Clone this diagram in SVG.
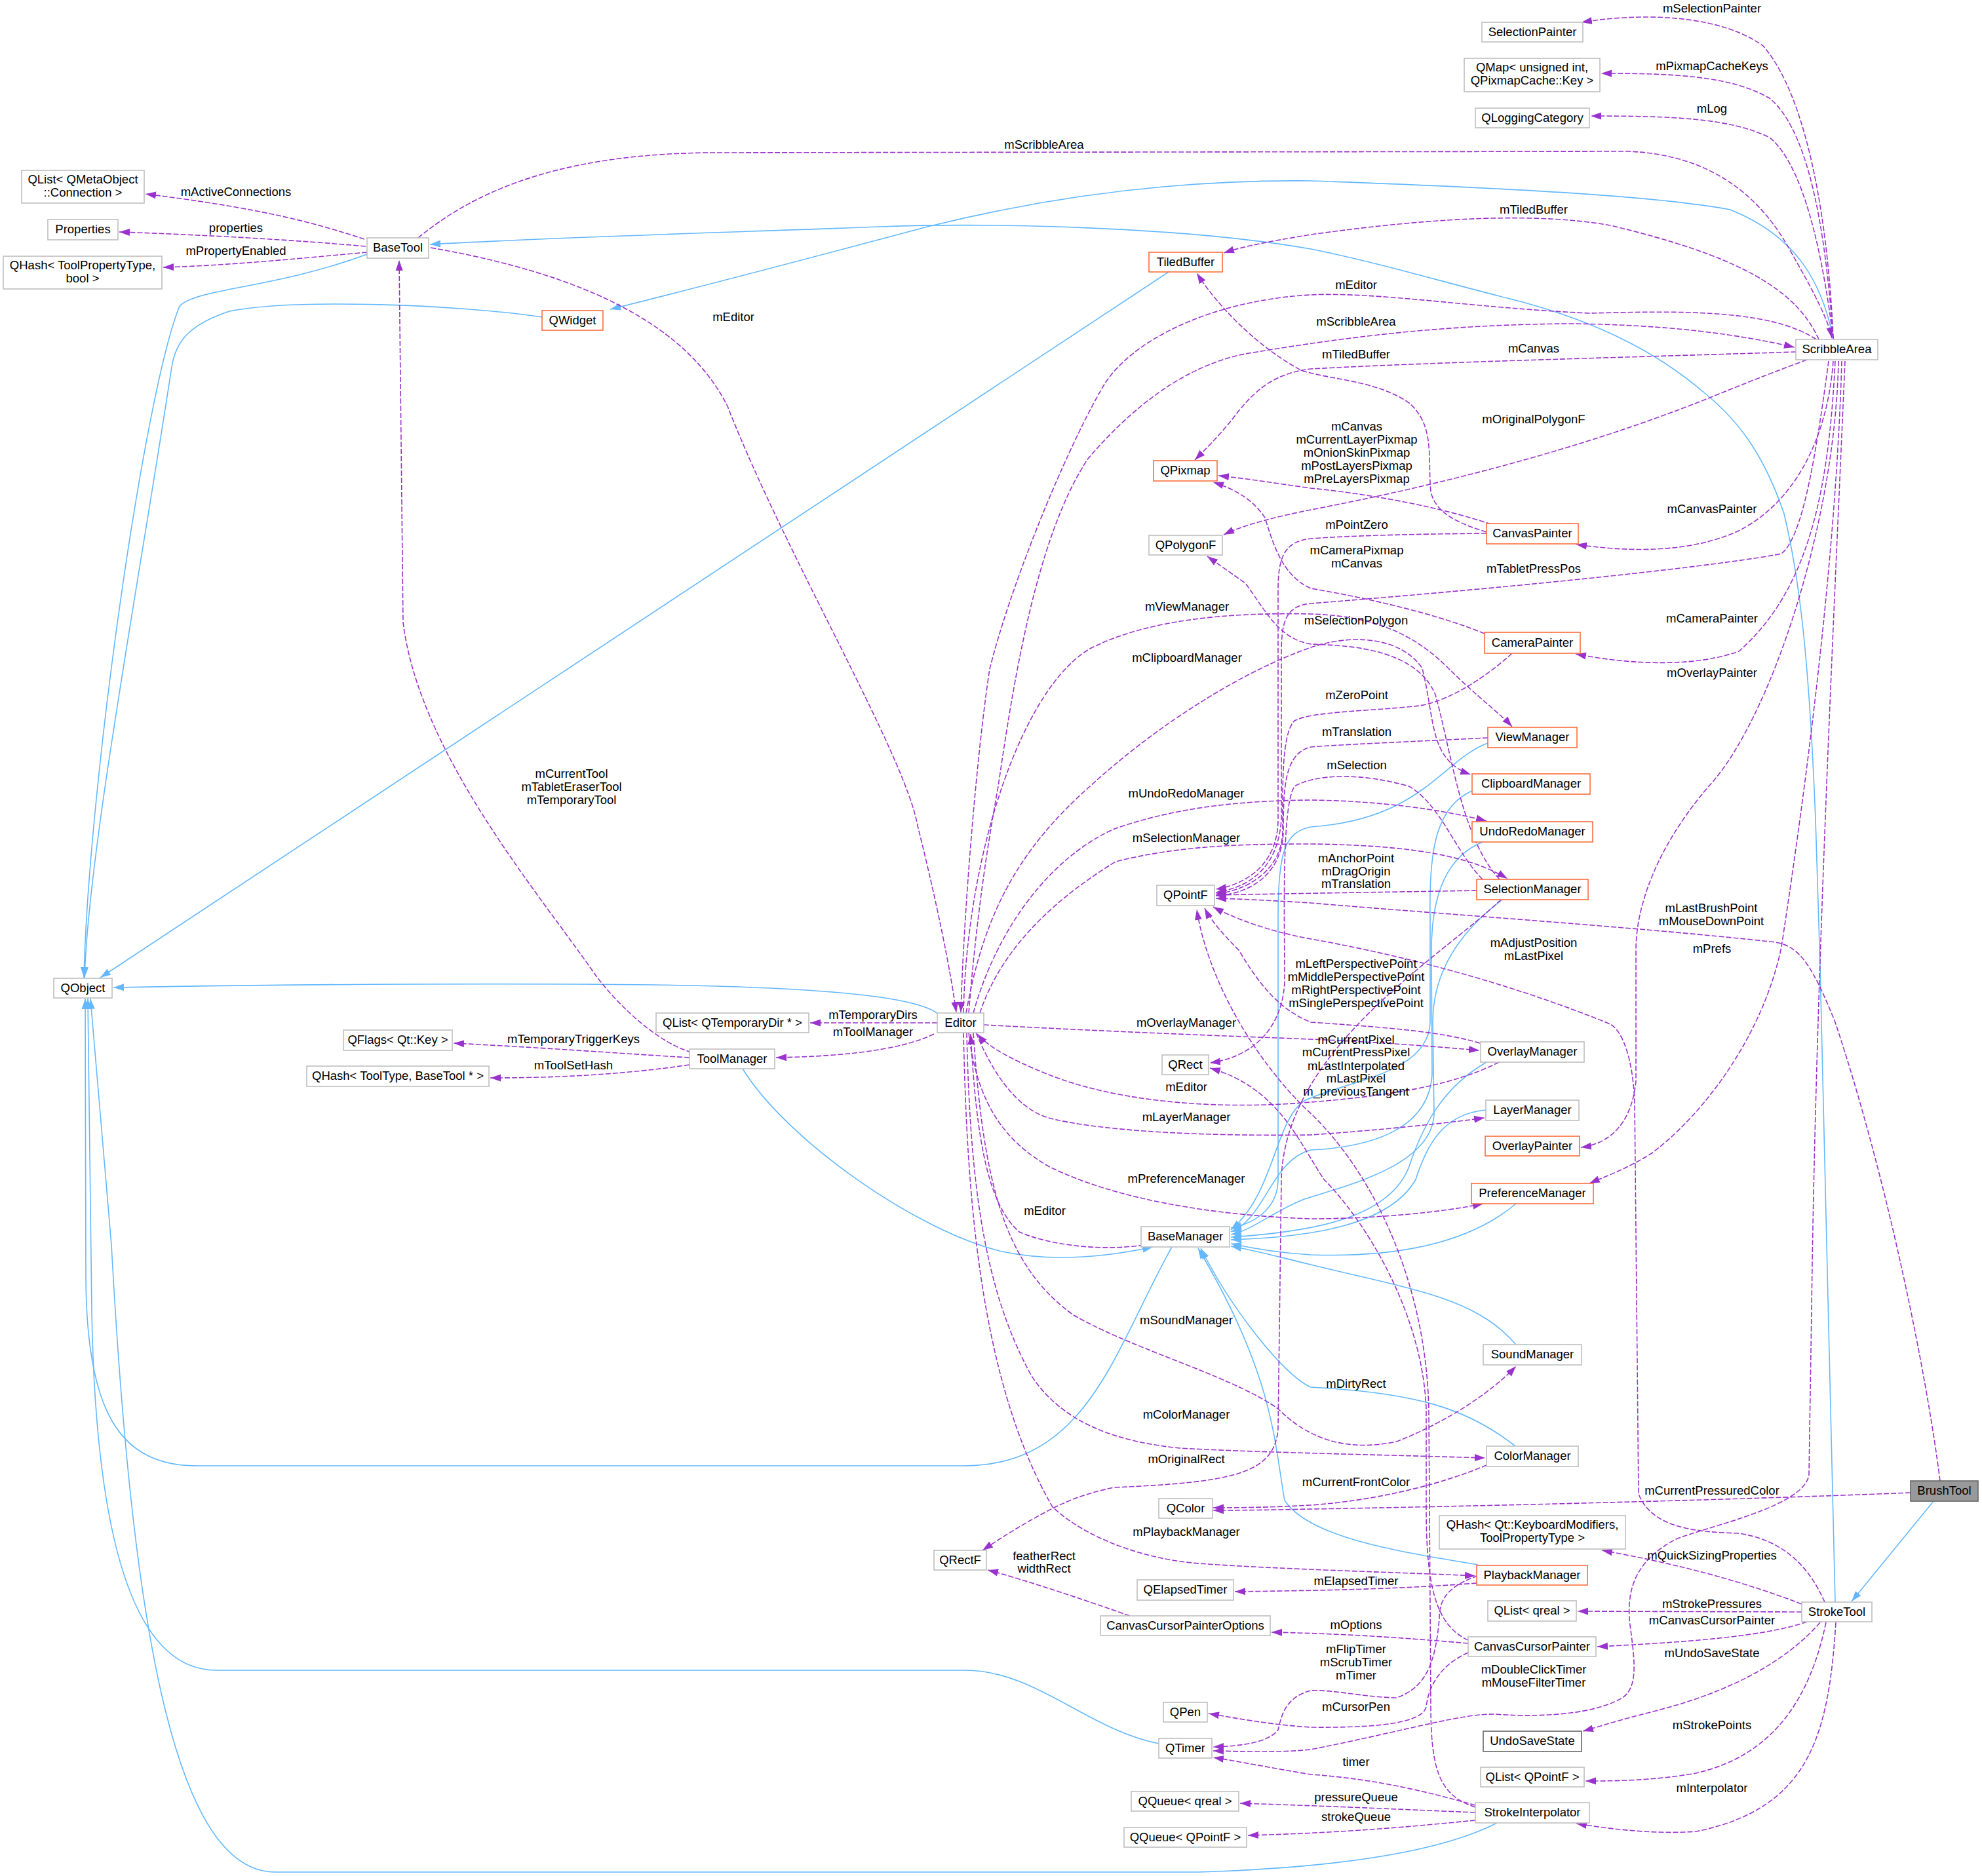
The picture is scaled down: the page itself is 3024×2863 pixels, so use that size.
<svg xmlns="http://www.w3.org/2000/svg" width="3024" height="2863" viewBox="0 0 3024 2863">
<style>
.bg{fill:#ffffff}
.u{fill:none;stroke:#9a32cd;stroke-width:1.6;stroke-dasharray:8,3;marker-end:url(#ap)}
.i{fill:none;stroke:#63b8ff;stroke-width:1.6;marker-end:url(#ab)}
.nb{fill:#ffffff;stroke:#bfbfbf;stroke-width:1.6}
.no{fill:#ffffff;stroke:#fb6d3d;stroke-width:1.6}
.nd{fill:#ffffff;stroke:#666666;stroke-width:1.6}
.nr{fill:#999999;stroke:#666666;stroke-width:1.6}
text{font-family:"Liberation Sans",Arial,sans-serif;font-size:18.5px;fill:#000000;text-anchor:middle}
</style>
<defs>
<marker id="ap" markerUnits="userSpaceOnUse" markerWidth="16" markerHeight="12" refX="16" refY="6" orient="auto" viewBox="0 0 16 12"><path d="M0,0.5 L16,6 L0,11.5 z" fill="#9a32cd"/></marker>
<marker id="ab" markerUnits="userSpaceOnUse" markerWidth="16" markerHeight="12" refX="16" refY="6" orient="auto" viewBox="0 0 16 12"><path d="M0,0.5 L16,6 L0,11.5 z" fill="#63b8ff"/></marker>
</defs>
<rect class="bg" x="0" y="0" width="3024" height="2863"/>
<g id="edges">
<path class="i" d="M560,388 C420,440 300,440 274,467 C220,600 135,1200 128,1492"/>
<path class="i" d="M827,484 C700,465 450,455 350,475 C290,495 268,520 262,560 C210,900 135,1300 129,1492"/>
<path class="i" d="M1783,415 L153,1492"/>
<path class="i" d="M2797,517 C2780,430 2740,360 2640,320 C2560,305 2400,290 2000,276 C1800,274 1600,300 1415,346 C1250,390 1100,430 931,472"/>
<path class="i" d="M2800,2445 C2795,2200 2785,1700 2770,1250 C2760,1000 2745,880 2722,784 C2690,690 2650,640 2601,600 C2520,530 2420,485 2300,455 C2200,430 2100,400 2000,380 C1800,345 1500,340 1344,346 C1100,355 850,362 656,373"/>
<path class="i" d="M2950,2291 L2825,2444"/>
<path class="i" d="M1432,1548 C1400,1520 1250,1507 1000,1503 C700,1500 400,1503 173,1507"/>
<path class="i" d="M1133,1631 C1200,1740 1400,1880 1529,1910 C1600,1925 1680,1920 1759,1903"/>
<path class="i" d="M1788,1903 C1700,2060 1660,2237 1470,2237 L300,2237 C180,2237 132,2150 131,1950 L130,1524"/>
<path class="i" d="M1768,2661 C1660,2640 1580,2549 1472,2549 L330,2549 C190,2549 145,2300 140,2000 L134,1524"/>
<path class="i" d="M2284,2782 C2200,2825 2050,2850 1829,2857 L420,2857 C260,2857 200,2450 170,1900 L138,1524"/>
<path class="i" d="M2270,1134 C2200,1160 2170,1250 2000,1262 C1960,1270 1950,1300 1950,1400 L1950,1800 C1950,1840 1920,1866 1878,1874"/>
<path class="i" d="M2248,1206 C2190,1230 2180,1300 2182,1400 L2182,1560 C2180,1640 2050,1650 1990,1680 C1945,1710 1945,1820 1878,1877"/>
<path class="i" d="M2262,1285 C2200,1310 2184,1380 2184,1450 L2185,1640 C2180,1720 2100,1750 2000,1755 C1940,1770 1930,1860 1878,1880"/>
<path class="i" d="M2292,1373 C2230,1420 2186,1480 2186,1560 L2188,1700 C2185,1780 2050,1810 1990,1830 C1940,1850 1910,1878 1878,1884"/>
<path class="i" d="M2268,1621 C2200,1660 2170,1720 2150,1780 C2120,1860 2000,1880 1878,1888"/>
<path class="i" d="M2267,1694 C2200,1700 2176,1750 2160,1800 C2120,1870 2000,1888 1878,1892"/>
<path class="i" d="M2313,1837 C2250,1890 2150,1920 2000,1915 C1950,1912 1910,1905 1878,1898"/>
<path class="i" d="M2313,2052 C2250,1980 2163,1970 2000,1930 C1950,1918 1910,1907 1878,1902"/>
<path class="i" d="M2312,2207 C2240,2150 2160,2125 2000,2117 C1960,2100 1880,2000 1832,1905"/>
<path class="i" d="M2255,2388 C2150,2370 2000,2350 1960,2290 C1944,2200 1944,2100 1828,1905"/>
<path class="u" d="M556,365 C480,340 400,318 222,296"/>
<path class="u" d="M558,376 C450,366 300,358 182,354"/>
<path class="u" d="M560,385 C450,395 350,405 249,408"/>
<path class="u" d="M638,363 C750,270 900,235 1083,233 L2483,231 C2600,235 2680,290 2730,380 C2770,450 2790,490 2795,516"/>
<path class="u" d="M657,378 C900,420 1050,500 1110,620 C1200,850 1380,1150 1400,1260 C1430,1380 1450,1480 1459,1545"/>
<path class="u" d="M1055,1606 C1000,1590 940,1530 910,1490 C820,1360 640,1150 615,950 L609,397"/>
<path class="u" d="M1052,1614 C950,1608 850,1600 692,1592"/>
<path class="u" d="M1052,1625 C950,1640 850,1645 748,1645"/>
<path class="u" d="M1425,1578 C1380,1600 1300,1612 1184,1614"/>
<path class="u" d="M1430,1561 L1236,1561"/>
<path class="u" d="M2797,517 C2790,350 2760,150 2690,70 C2620,20 2500,20 2413,34"/>
<path class="u" d="M2797,517 C2785,350 2760,200 2700,150 C2640,115 2550,112 2443,112"/>
<path class="u" d="M2797,517 C2780,380 2750,250 2700,210 C2640,180 2550,177 2427,177"/>
<path class="u" d="M2775,518 C2740,440 2650,390 2457,344 C2350,325 2200,330 2000,358 C1940,368 1900,375 1867,386"/>
<path class="u" d="M2771,518 C2700,470 2550,475 2425,478 C2250,470 2100,445 2000,450 C1850,458 1720,520 1680,595 C1620,700 1540,900 1510,1021 C1490,1150 1470,1400 1466,1545"/>
<path class="u" d="M1478,1546 C1490,1400 1505,1300 1523,1200 C1545,1050 1580,820 1660,700 C1720,630 1800,560 1900,540 C2050,515 2200,495 2400,494 C2550,496 2650,510 2738,530"/>
<path class="u" d="M2740,537 C2500,545 2200,552 2000,563 C1940,570 1910,600 1880,640 C1860,665 1840,685 1823,702"/>
<path class="u" d="M2268,812 C2230,800 2190,785 2183,750 C2178,700 2190,650 2150,615 C2100,580 2030,580 1985,565 C1920,530 1860,470 1826,417"/>
<path class="u" d="M2757,549 C2700,570 2650,590 2601,610 C2450,670 2250,730 2000,778 C1950,788 1900,800 1867,816"/>
<path class="u" d="M2275,800 C2200,775 2100,755 2000,745 C1950,738 1900,730 1859,726"/>
<path class="u" d="M2268,814 C2150,815 2050,818 2000,822 C1960,826 1950,850 1950,900 L1950,1250 C1950,1320 1900,1350 1855,1357"/>
<path class="u" d="M2797,551 C2790,650 2750,760 2653,810 C2570,848 2470,840 2405,831"/>
<path class="u" d="M2265,967 C2200,940 2100,915 2000,898 C1960,880 1945,840 1930,790 C1910,760 1880,745 1851,736"/>
<path class="u" d="M2790,551 C2770,700 2750,820 2718,845 C2620,864 2327,895 2000,921 C1960,925 1955,950 1955,1000 L1955,1250 C1950,1330 1900,1355 1855,1362"/>
<path class="u" d="M1470,1546 C1475,1300 1560,1050 1663,990 C1760,940 1900,935 2000,937 C2100,940 2160,970 2210,1020 C2250,1060 2290,1090 2307,1109"/>
<path class="u" d="M2288,1342 C2230,1280 2215,1150 2190,1060 C2160,990 2060,985 2000,983 C1950,975 1930,930 1900,890 L1842,849"/>
<path class="u" d="M2800,551 C2790,750 2760,900 2653,994 C2580,1020 2480,1013 2404,998"/>
<path class="u" d="M1474,1546 C1500,1400 1550,1300 1663,1200 C1750,1120 1880,1030 2000,988 C2070,965 2140,975 2170,1020 C2190,1100 2180,1160 2244,1182"/>
<path class="u" d="M2805,551 C2800,800 2700,1100 2607,1200 C2530,1290 2496,1380 2496,1450 L2496,1650 C2490,1710 2460,1745 2412,1751"/>
<path class="u" d="M2307,997 C2260,1040 2200,1075 2157,1078 C2090,1085 2000,1086 1975,1100 C1955,1120 1957,1200 1957,1270 C1955,1330 1900,1360 1855,1364"/>
<path class="u" d="M2270,1126 C2150,1132 2050,1136 2000,1140 C1960,1150 1958,1200 1958,1270 C1955,1340 1900,1365 1855,1367"/>
<path class="u" d="M2262,1342 C2220,1300 2200,1230 2150,1200 C2080,1180 2010,1180 1975,1200 C1955,1230 1960,1400 1960,1500 C1955,1580 1900,1615 1846,1622"/>
<path class="u" d="M1485,1546 C1520,1420 1600,1310 1700,1265 C1800,1230 1900,1222 2000,1221 C2100,1222 2200,1235 2268,1253"/>
<path class="u" d="M1495,1546 C1520,1470 1580,1390 1702,1315 C1800,1290 1900,1288 2000,1288 C2150,1290 2240,1305 2300,1341"/>
<path class="u" d="M2253,1359 C2150,1361 2000,1363 1855,1366"/>
<path class="u" d="M2960,2260 C2940,2100 2880,1800 2800,1560 C2760,1460 2740,1440 2700,1437 C2500,1415 2200,1395 2000,1378 C1950,1375 1900,1372 1855,1371"/>
<path class="u" d="M2784,2445 C2760,2390 2720,2350 2653,2340 C2580,2338 2520,2330 2500,2280 L2494,1680 C2490,1600 2470,1570 2457,1563 C2340,1515 2180,1465 2000,1433 C1930,1420 1880,1400 1851,1384"/>
<path class="u" d="M2810,551 C2800,900 2740,1300 2718,1445 C2690,1580 2600,1700 2520,1760 C2480,1785 2450,1795 2425,1806"/>
<path class="u" d="M2258,1592 C2200,1575 2131,1569 2000,1560 C1950,1540 1920,1500 1890,1450 C1860,1420 1845,1400 1838,1386"/>
<path class="u" d="M1501,1564 C1700,1575 1900,1582 2000,1586 C2100,1590 2200,1598 2257,1603"/>
<path class="u" d="M2251,2758 C2195,2740 2183,2700 2183,2600 L2180,2150 C2175,1950 2090,1780 1990,1690 C1900,1600 1840,1480 1826,1388"/>
<path class="u" d="M2287,1621 C2230,1650 2150,1670 2000,1682 C1850,1695 1700,1680 1600,1640 C1550,1620 1510,1600 1491,1578"/>
<path class="u" d="M1489,1576 C1520,1650 1560,1700 1612,1709 C1700,1728 1850,1734 2000,1732 C2100,1725 2200,1715 2265,1706"/>
<path class="u" d="M1478,1576 C1490,1680 1530,1740 1600,1780 C1700,1830 1850,1855 2000,1860 C2100,1860 2200,1850 2263,1837"/>
<path class="u" d="M1745,1900 C1680,1910 1600,1900 1555,1880 C1510,1840 1490,1750 1481,1578"/>
<path class="u" d="M1485,1576 C1500,1800 1530,1930 1638,2007 C1730,2060 1880,2100 1950,2150 C2000,2200 2060,2215 2131,2200 C2215,2167 2280,2120 2313,2085"/>
<path class="u" d="M1475,1576 C1480,1800 1500,1967 1574,2100 C1620,2170 1700,2200 1800,2210 C1900,2216 2100,2220 2266,2225"/>
<path class="u" d="M1470,1576 C1475,1800 1490,2100 1606,2300 C1660,2350 1750,2380 1829,2386 C1950,2395 2150,2400 2251,2405"/>
<path class="u" d="M2290,1373 C2200,1460 1960,1600 1955,1800 L1950,2180 C1945,2250 1880,2262 1700,2270 C1660,2278 1630,2290 1610,2300 C1570,2320 1530,2345 1499,2366"/>
<path class="u" d="M2240,2503 C2190,2480 2176,2420 2176,2300 L2176,2150 C2170,2000 2080,1860 2020,1800 C1980,1740 1950,1660 1846,1630"/>
<path class="u" d="M2268,2236 C2200,2265 2100,2290 2000,2297 C1950,2300 1900,2301 1851,2301"/>
<path class="u" d="M2915,2278 C2700,2287 2300,2298 2000,2303 C1950,2304 1900,2305 1851,2305"/>
<path class="u" d="M2749,2448 C2650,2410 2550,2385 2444,2366"/>
<path class="u" d="M2749,2460 L2407,2459"/>
<path class="u" d="M2757,2475 C2700,2495 2600,2505 2437,2513"/>
<path class="u" d="M2777,2476 C2730,2530 2650,2580 2522,2612 C2470,2625 2440,2635 2415,2642"/>
<path class="u" d="M2786,2476 C2760,2600 2700,2680 2588,2706 C2520,2718 2460,2718 2419,2718"/>
<path class="u" d="M2801,2476 C2790,2650 2760,2760 2588,2795 C2520,2800 2450,2790 2405,2783"/>
<path class="u" d="M2253,2416 C2150,2424 2050,2427 1884,2429"/>
<path class="u" d="M2255,2405 C2210,2420 2196,2440 2196,2470 C2190,2540 2175,2575 2131,2591 C2080,2590 2030,2578 2000,2580 C1960,2590 1955,2620 1950,2640 C1935,2660 1890,2665 1851,2666"/>
<path class="u" d="M2240,2508 C2150,2500 2050,2493 1940,2491"/>
<path class="u" d="M2240,2522 C2200,2540 2180,2570 2176,2605 C2170,2630 2100,2637 2000,2636 C1950,2633 1900,2625 1844,2615"/>
<path class="u" d="M2815,551 C2800,900 2770,1500 2764,2000 L2760,2250 C2755,2300 2600,2330 2555,2350 C2500,2380 2480,2420 2487,2480 C2495,2540 2500,2580 2470,2594 C2420,2620 2330,2620 2281,2616 C2230,2615 2150,2640 2000,2670 C1950,2675 1900,2673 1851,2672"/>
<path class="u" d="M2251,2755 C2180,2735 2100,2715 2000,2708 C1950,2700 1900,2690 1851,2682"/>
<path class="u" d="M2251,2766 C2150,2762 2050,2757 1892,2752"/>
<path class="u" d="M2251,2778 C2150,2788 2050,2797 1904,2801"/>
<path class="u" d="M1724,2466 C1650,2440 1560,2410 1507,2396"/>
<g id="edge-labels">
<text x="360" y="299">mActiveConnections</text>
<text x="360" y="354">properties</text>
<text x="360" y="389">mPropertyEnabled</text>
<text x="1593" y="227">mScribbleArea</text>
<text x="1119" y="490">mEditor</text>
<text x="2612" y="19">mSelectionPainter</text>
<text x="2612" y="107">mPixmapCacheKeys</text>
<text x="2612" y="172">mLog</text>
<text x="2340" y="326">mTiledBuffer</text>
<text x="2069" y="441">mEditor</text>
<text x="2069" y="497">mScribbleArea</text>
<text x="2340" y="538">mCanvas</text>
<text x="2069" y="547">mTiledBuffer</text>
<text x="2340" y="646">mOriginalPolygonF</text>
<text x="2070" y="657">mCanvas</text>
<text x="2070" y="677">mCurrentLayerPixmap</text>
<text x="2070" y="697">mOnionSkinPixmap</text>
<text x="2070" y="717">mPostLayersPixmap</text>
<text x="2070" y="737">mPreLayersPixmap</text>
<text x="2612" y="783">mCanvasPainter</text>
<text x="2070" y="807">mPointZero</text>
<text x="2070" y="846">mCameraPixmap</text>
<text x="2070" y="866">mCanvas</text>
<text x="2340" y="874">mTabletPressPos</text>
<text x="1811" y="932">mViewManager</text>
<text x="2069" y="953">mSelectionPolygon</text>
<text x="2612" y="950">mCameraPainter</text>
<text x="1811" y="1010">mClipboardManager</text>
<text x="2612" y="1033">mOverlayPainter</text>
<text x="2070" y="1067">mZeroPoint</text>
<text x="2070" y="1123">mTranslation</text>
<text x="2070" y="1174">mSelection</text>
<text x="872" y="1187">mCurrentTool</text>
<text x="872" y="1207">mTabletEraserTool</text>
<text x="872" y="1227">mTemporaryTool</text>
<text x="1810" y="1217">mUndoRedoManager</text>
<text x="1810" y="1285">mSelectionManager</text>
<text x="2069" y="1316">mAnchorPoint</text>
<text x="2069" y="1336">mDragOrigin</text>
<text x="2069" y="1355">mTranslation</text>
<text x="2611" y="1392">mLastBrushPoint</text>
<text x="2611" y="1412">mMouseDownPoint</text>
<text x="2340" y="1445">mAdjustPosition</text>
<text x="2340" y="1465">mLastPixel</text>
<text x="2612" y="1454">mPrefs</text>
<text x="2069" y="1477">mLeftPerspectivePoint</text>
<text x="2069" y="1497">mMiddlePerspectivePoint</text>
<text x="2069" y="1517">mRightPerspectivePoint</text>
<text x="2069" y="1537">mSinglePerspectivePoint</text>
<text x="1332" y="1555">mTemporaryDirs</text>
<text x="1332" y="1581">mToolManager</text>
<text x="1810" y="1567">mOverlayManager</text>
<text x="875" y="1592">mTemporaryTriggerKeys</text>
<text x="875" y="1632">mToolSetHash</text>
<text x="2069" y="1593">mCurrentPixel</text>
<text x="2069" y="1612">mCurrentPressPixel</text>
<text x="2069" y="1633">mLastInterpolated</text>
<text x="2069" y="1652">mLastPixel</text>
<text x="2069" y="1672">m_previousTangent</text>
<text x="1810" y="1665">mEditor</text>
<text x="1810" y="1711">mLayerManager</text>
<text x="1810" y="1805">mPreferenceManager</text>
<text x="1594" y="1854">mEditor</text>
<text x="1810" y="2021">mSoundManager</text>
<text x="2069" y="2118">mDirtyRect</text>
<text x="1810" y="2165">mColorManager</text>
<text x="1810" y="2233">mOriginalRect</text>
<text x="2069" y="2268">mCurrentFrontColor</text>
<text x="2612" y="2281">mCurrentPressuredColor</text>
<text x="1810" y="2344">mPlaybackManager</text>
<text x="1593" y="2381">featherRect</text>
<text x="1593" y="2400">widthRect</text>
<text x="2612" y="2380">mQuickSizingProperties</text>
<text x="2069" y="2419">mElapsedTimer</text>
<text x="2612" y="2454">mStrokePressures</text>
<text x="2612" y="2479">mCanvasCursorPainter</text>
<text x="2069" y="2486">mOptions</text>
<text x="2069" y="2523">mFlipTimer</text>
<text x="2069" y="2543">mScrubTimer</text>
<text x="2069" y="2563">mTimer</text>
<text x="2612" y="2529">mUndoSaveState</text>
<text x="2340" y="2554">mDoubleClickTimer</text>
<text x="2340" y="2574">mMouseFilterTimer</text>
<text x="2069" y="2611">mCursorPen</text>
<text x="2612" y="2639">mStrokePoints</text>
<text x="2069" y="2695">timer</text>
<text x="2612" y="2735">mInterpolator</text>
<text x="2069" y="2749">pressureQueue</text>
<text x="2069" y="2779">strokeQueue</text>
</g>
</g>
<g id="n_BrushTool"><rect class="nr" x="2915" y="2260" width="103" height="31"/><text x="2966.5" y="2281">BrushTool</text></g>
<g id="n_StrokeTool"><rect class="nb" x="2749" y="2445" width="107" height="30"/><text x="2802.5" y="2466">StrokeTool</text></g>
<g id="n_BaseTool"><rect class="nb" x="560" y="363" width="94" height="31"/><text x="607" y="384">BaseTool</text></g>
<g id="n_QObject"><rect class="nb" x="82" y="1493" width="89" height="30"/><text x="126.5" y="1514">QObject</text></g>
<g id="n_QListConnection"><rect class="nb" x="33" y="260" width="187" height="50"/><text x="126.5" y="280">QList&lt; QMetaObject</text><text x="126.5" y="300">::Connection &gt;</text></g>
<g id="n_Properties"><rect class="nb" x="73" y="335" width="107" height="31"/><text x="126.5" y="356">Properties</text></g>
<g id="n_QHashToolPropertyType"><rect class="nb" x="5" y="391" width="242" height="50"/><text x="126" y="411">QHash&lt; ToolPropertyType,</text><text x="126" y="431">bool &gt;</text></g>
<g id="n_ScribbleArea"><rect class="nb" x="2740" y="518" width="125" height="31"/><text x="2802.5" y="539">ScribbleArea</text></g>
<g id="n_SelectionPainter"><rect class="nb" x="2261" y="34" width="154" height="30"/><text x="2338" y="55">SelectionPainter</text></g>
<g id="n_QMap"><rect class="nb" x="2234" y="89" width="207" height="51"/><text x="2337.5" y="109">QMap&lt; unsigned int,</text><text x="2337.5" y="129">QPixmapCache::Key &gt;</text></g>
<g id="n_QLoggingCategory"><rect class="nb" x="2251" y="165" width="174" height="30"/><text x="2338" y="186">QLoggingCategory</text></g>
<g id="n_QWidget"><rect class="no" x="827" y="474" width="93" height="30"/><text x="873.5" y="495">QWidget</text></g>
<g id="n_TiledBuffer"><rect class="no" x="1753" y="385" width="112" height="30"/><text x="1809" y="406">TiledBuffer</text></g>
<g id="n_QPixmap"><rect class="no" x="1760" y="703" width="97" height="31"/><text x="1808.5" y="724">QPixmap</text></g>
<g id="n_QPolygonF"><rect class="nb" x="1753" y="817" width="112" height="30"/><text x="1809" y="838">QPolygonF</text></g>
<g id="n_CanvasPainter"><rect class="no" x="2268" y="799" width="140" height="31"/><text x="2338" y="820">CanvasPainter</text></g>
<g id="n_CameraPainter"><rect class="no" x="2265" y="965" width="146" height="32"/><text x="2338" y="987">CameraPainter</text></g>
<g id="n_ViewManager"><rect class="no" x="2270" y="1110" width="136" height="31"/><text x="2338" y="1131">ViewManager</text></g>
<g id="n_ClipboardManager"><rect class="no" x="2246" y="1181" width="180" height="31"/><text x="2336" y="1202">ClipboardManager</text></g>
<g id="n_UndoRedoManager"><rect class="no" x="2246" y="1254" width="184" height="31"/><text x="2338" y="1275">UndoRedoManager</text></g>
<g id="n_SelectionManager"><rect class="no" x="2253" y="1342" width="170" height="31"/><text x="2338" y="1363">SelectionManager</text></g>
<g id="n_QPointF"><rect class="nb" x="1765" y="1351" width="88" height="31"/><text x="1809" y="1372">QPointF</text></g>
<g id="n_Editor"><rect class="nb" x="1430" y="1546" width="71" height="30"/><text x="1465.5" y="1567">Editor</text></g>
<g id="n_QListQTemporaryDir"><rect class="nb" x="1001" y="1546" width="233" height="30"/><text x="1117.5" y="1567">QList&lt; QTemporaryDir * &gt;</text></g>
<g id="n_ToolManager"><rect class="nb" x="1052" y="1601" width="130" height="30"/><text x="1117" y="1622">ToolManager</text></g>
<g id="n_QFlags"><rect class="nb" x="524" y="1572" width="166" height="31"/><text x="607" y="1593">QFlags&lt; Qt::Key &gt;</text></g>
<g id="n_QHashToolType"><rect class="nb" x="468" y="1627" width="278" height="31"/><text x="607" y="1648">QHash&lt; ToolType, BaseTool * &gt;</text></g>
<g id="n_QRect"><rect class="nb" x="1773" y="1610" width="71" height="30"/><text x="1808.5" y="1631">QRect</text></g>
<g id="n_OverlayManager"><rect class="nb" x="2259" y="1590" width="158" height="31"/><text x="2338" y="1611">OverlayManager</text></g>
<g id="n_LayerManager"><rect class="nb" x="2267" y="1679" width="142" height="31"/><text x="2338" y="1700">LayerManager</text></g>
<g id="n_OverlayPainter"><rect class="no" x="2266" y="1734" width="144" height="30"/><text x="2338" y="1755">OverlayPainter</text></g>
<g id="n_PreferenceManager"><rect class="no" x="2245" y="1806" width="186" height="31"/><text x="2338" y="1827">PreferenceManager</text></g>
<g id="n_BaseManager"><rect class="nb" x="1741" y="1872" width="135" height="31"/><text x="1808.5" y="1893">BaseManager</text></g>
<g id="n_SoundManager"><rect class="nb" x="2263" y="2052" width="150" height="31"/><text x="2338" y="2073">SoundManager</text></g>
<g id="n_ColorManager"><rect class="nb" x="2268" y="2207" width="140" height="31"/><text x="2338" y="2228">ColorManager</text></g>
<g id="n_QColor"><rect class="nb" x="1768" y="2287" width="82" height="30"/><text x="1809" y="2308">QColor</text></g>
<g id="n_QHashKeyboardModifiers"><rect class="nb" x="2196" y="2313" width="284" height="51"/><text x="2338" y="2333">QHash&lt; Qt::KeyboardModifiers,</text><text x="2338" y="2353">ToolPropertyType &gt;</text></g>
<g id="n_QRectF"><rect class="nb" x="1425" y="2366" width="80" height="30"/><text x="1465" y="2387">QRectF</text></g>
<g id="n_QElapsedTimer"><rect class="nb" x="1735" y="2411" width="147" height="31"/><text x="1808.5" y="2432">QElapsedTimer</text></g>
<g id="n_PlaybackManager"><rect class="no" x="2253" y="2389" width="169" height="30"/><text x="2337.5" y="2410">PlaybackManager</text></g>
<g id="n_QListQreal"><rect class="nb" x="2270" y="2443" width="135" height="31"/><text x="2337.5" y="2464">QList&lt; qreal &gt;</text></g>
<g id="n_CanvasCursorPainterOptions"><rect class="nb" x="1679" y="2466" width="259" height="30"/><text x="1808.5" y="2487">CanvasCursorPainterOptions</text></g>
<g id="n_CanvasCursorPainter"><rect class="nb" x="2240" y="2498" width="195" height="30"/><text x="2337.5" y="2519">CanvasCursorPainter</text></g>
<g id="n_QPen"><rect class="nb" x="1775" y="2598" width="67" height="30"/><text x="1808.5" y="2619">QPen</text></g>
<g id="n_QTimer"><rect class="nb" x="1768" y="2653" width="81" height="30"/><text x="1808.5" y="2674">QTimer</text></g>
<g id="n_UndoSaveState"><rect class="nd" x="2263" y="2642" width="150" height="31"/><text x="2338" y="2663">UndoSaveState</text></g>
<g id="n_QListQPointF"><rect class="nb" x="2259" y="2697" width="158" height="30"/><text x="2338" y="2718">QList&lt; QPointF &gt;</text></g>
<g id="n_QQueueQreal"><rect class="nb" x="1726" y="2734" width="164" height="30"/><text x="1808" y="2755">QQueue&lt; qreal &gt;</text></g>
<g id="n_StrokeInterpolator"><rect class="nb" x="2251" y="2751" width="174" height="31"/><text x="2338" y="2772">StrokeInterpolator</text></g>
<g id="n_QQueueQPointF"><rect class="nb" x="1715" y="2789" width="187" height="30"/><text x="1808.5" y="2810">QQueue&lt; QPointF &gt;</text></g>
</svg>
